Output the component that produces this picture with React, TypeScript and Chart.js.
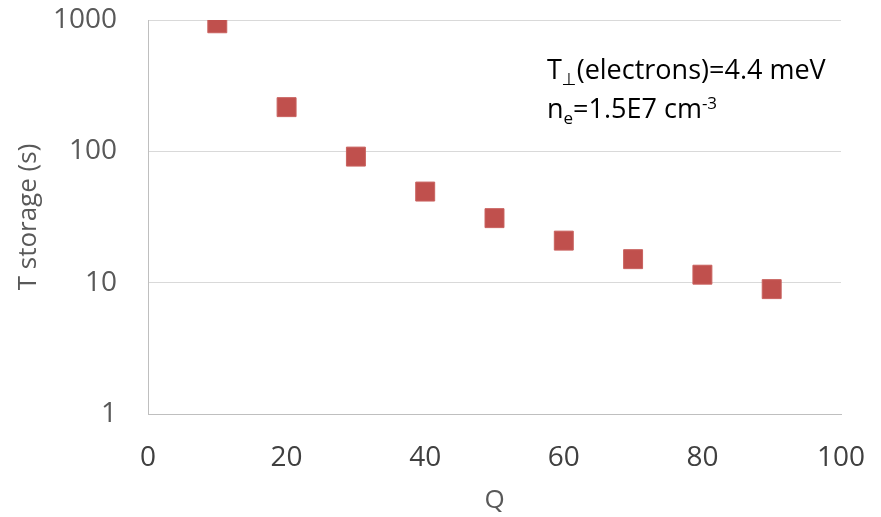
import React, { useEffect, useRef } from 'react';
import { Chart, registerables } from 'chart.js';

Chart.register(...registerables);

// ---- Data ----
const qValues = [10, 20, 30, 40, 50, 60, 70, 80, 90];
const storageTimes = [944, 217, 91.2, 49.4, 31.0, 20.9, 15.1, 11.5, 8.93];
const yTickValues = [1, 10, 100, 1000];
const xTickStep = 20;
const xTitle = 'Q';
const yTitle = 'T storage (s)';
const annotationLine1 = [
  { text: 'T', kind: 'normal' },
  { text: '⊥', kind: 'sub' },
  { text: '(electrons)=4.4 meV', kind: 'normal' },
];
const annotationLine2 = [
  { text: 'n', kind: 'normal' },
  { text: 'e', kind: 'sub' },
  { text: '=1.5E7 cm', kind: 'normal' },
  { text: '-3', kind: 'sup' },
];

const FONT = "'Open Sans', 'DejaVu Sans', sans-serif";

const annotationPlugin = {
  id: 'richAnnotation',
  afterDraw(chart: any) {
    const { ctx, chartArea } = chart;
    const drawLine = (segs: { text: string; kind: string }[], x: number, y: number) => {
      let cx = x;
      for (const s of segs) {
        let size = 27;
        let dy = 0;
        if (s.kind === 'sub') { size = 17; dy = 6; }
        if (s.kind === 'sup') { size = 17; dy = -9; }
        ctx.font = `${size}px ${FONT}`;
        ctx.fillText(s.text, cx, y + dy);
        cx += ctx.measureText(s.text).width;
      }
    };
    ctx.save();
    ctx.fillStyle = '#000000';
    ctx.textAlign = 'left';
    ctx.textBaseline = 'alphabetic';
    drawLine(annotationLine1, chartArea.left + 399, chartArea.top + 59);
    drawLine(annotationLine2, chartArea.left + 399, chartArea.top + 98);
    ctx.restore();
  },
};

const zeroPad = (scale: any) => {
  scale.paddingTop = 0;
  scale.paddingBottom = 0;
  scale.paddingLeft = 0;
  scale.paddingRight = 0;
};

export default function App() {
  const canvasRef = useRef<HTMLCanvasElement | null>(null);

  useEffect(() => {
    const canvas = canvasRef.current;
    if (!canvas) return;
    const chart = new Chart(canvas, {
      type: 'scatter',
      data: {
        datasets: [
          {
            data: qValues.map((q, i) => ({ x: q, y: storageTimes[i] })),
            pointStyle: 'rect',
            pointRadius: 13.4,
            pointHoverRadius: 13.4,
            backgroundColor: '#C0504D',
            borderColor: '#C9625F',
            borderWidth: 1,
          },
        ],
      },
      options: {
        responsive: false,
        animation: false,
        devicePixelRatio: 1,
        layout: { autoPadding: false, padding: { top: 20, right: 40, left: 0, bottom: 0 } },
        plugins: { legend: { display: false }, tooltip: { enabled: false } },
        scales: {
          x: {
            type: 'linear',
            min: 0,
            max: 100,
            ticks: {
              stepSize: xTickStep,
              color: '#404040',
              font: { family: FONT, size: 28 },
              padding: 27,
              maxRotation: 0,
            },
            grid: { display: false, drawTicks: false },
            border: { display: true, color: '#BFBFBF', width: 1 },
            title: {
              display: true,
              text: xTitle,
              color: '#595959',
              font: { family: FONT, size: 26 },
              padding: { top: 0, bottom: 1 },
            },
            afterFit(scale: any) {
              scale.height = 103;
              zeroPad(scale);
            },
          },
          y: {
            type: 'logarithmic',
            min: 1,
            max: 1000,
            afterBuildTicks(scale: any) {
              scale.ticks = yTickValues.map((v) => ({ value: v }));
            },
            ticks: {
              color: '#595959',
              font: { family: FONT, size: 28 },
              padding: 31,
              callback: (v: any) => String(v),
            },
            grid: {
              drawTicks: false,
              color: (c: any) => (c.tick && c.tick.value === 1 ? 'rgba(0,0,0,0)' : '#D9D9D9'),
            },
            border: { display: true, color: '#BFBFBF', width: 1 },
            title: {
              display: true,
              text: yTitle,
              color: '#595959',
              font: { family: FONT, size: 26 },
              padding: { top: 13, bottom: 0 },
            },
            afterFit(scale: any) {
              scale.width = 148;
              zeroPad(scale);
            },
          },
        },
      } as any,
      plugins: [annotationPlugin],
    });
    return () => chart.destroy();
  }, []);

  return (
    <div style={{ position: 'absolute', left: 0, top: 0, width: 881, height: 517, background: '#ffffff' }}>
      <canvas ref={canvasRef} width={881} height={517} />
    </div>
  );
}
